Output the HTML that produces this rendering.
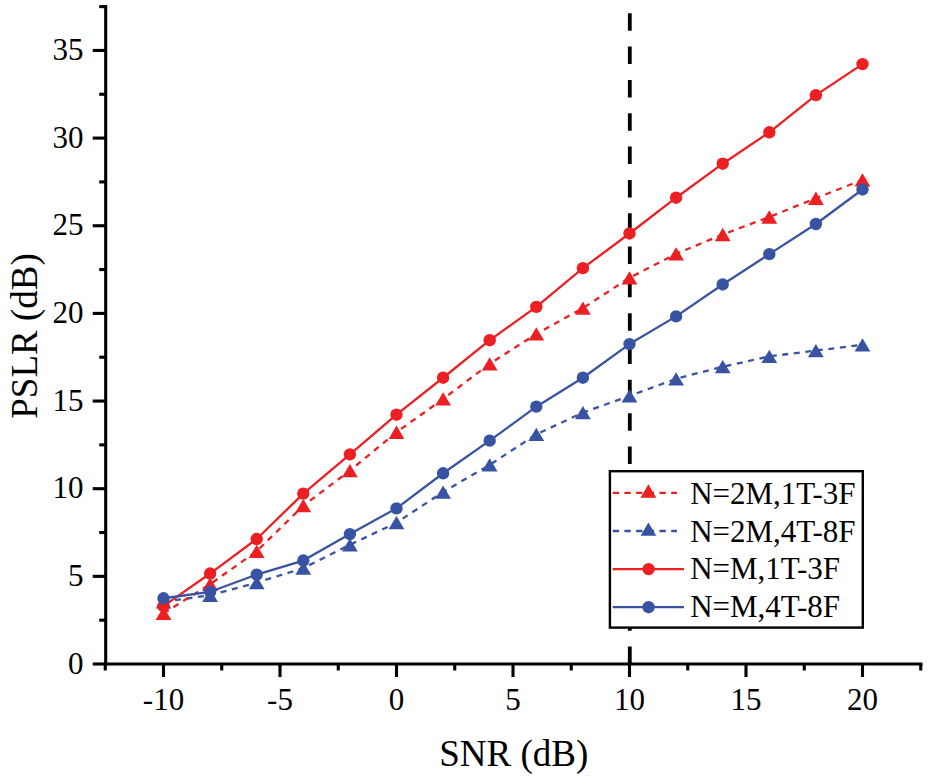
<!DOCTYPE html><html><head><meta charset="utf-8"><style>
html,body{margin:0;padding:0;background:#fff;width:929px;height:783px;overflow:hidden}
svg{display:block}
text{font-family:"Liberation Serif", serif;fill:#000}
</style></head><body>
<svg width="929" height="783" viewBox="0 0 929 783">
<rect width="929" height="783" fill="#fff"/>
<line x1="629.80" y1="664.0" x2="629.80" y2="5" stroke="#000" stroke-width="3.8" stroke-dasharray="17.5 15.83"/>
<polyline points="163.50,601.77 210.10,595.28 256.70,582.66 303.30,568.11 349.90,544.80 396.50,522.71 443.10,492.03 489.70,464.86 536.30,434.36 582.90,412.62 629.50,395.97 676.10,378.79 722.70,366.69 769.30,356.35 815.90,350.56 862.50,344.78" fill="none" stroke="#3953A3" stroke-width="2.3" stroke-dasharray="6 5.6" stroke-linejoin="round"/>
<polygon points="155.60,608.42 171.40,608.42 163.50,595.12" fill="#3953A3"/>
<polygon points="202.20,601.93 218.00,601.93 210.10,588.63" fill="#3953A3"/>
<polygon points="248.80,589.31 264.60,589.31 256.70,576.01" fill="#3953A3"/>
<polygon points="295.40,574.76 311.20,574.76 303.30,561.46" fill="#3953A3"/>
<polygon points="342.00,551.45 357.80,551.45 349.90,538.15" fill="#3953A3"/>
<polygon points="388.60,529.36 404.40,529.36 396.50,516.06" fill="#3953A3"/>
<polygon points="435.20,498.68 451.00,498.68 443.10,485.38" fill="#3953A3"/>
<polygon points="481.80,471.51 497.60,471.51 489.70,458.21" fill="#3953A3"/>
<polygon points="528.40,441.01 544.20,441.01 536.30,427.71" fill="#3953A3"/>
<polygon points="575.00,419.27 590.80,419.27 582.90,405.97" fill="#3953A3"/>
<polygon points="621.60,402.62 637.40,402.62 629.50,389.32" fill="#3953A3"/>
<polygon points="668.20,385.44 684.00,385.44 676.10,372.14" fill="#3953A3"/>
<polygon points="714.80,373.34 730.60,373.34 722.70,360.04" fill="#3953A3"/>
<polygon points="761.40,363.00 777.20,363.00 769.30,349.70" fill="#3953A3"/>
<polygon points="808.00,357.21 823.80,357.21 815.90,343.91" fill="#3953A3"/>
<polygon points="854.60,351.43 870.40,351.43 862.50,338.13" fill="#3953A3"/>
<polyline points="163.50,613.34 210.10,584.24 256.70,551.28 303.30,505.70 349.90,470.64 396.50,432.25 443.10,398.95 489.70,363.89 536.30,333.91 582.90,308.14 629.50,277.81 676.10,253.80 722.70,234.51 769.30,216.98 815.90,198.23 862.50,179.82" fill="none" stroke="#EC1F22" stroke-width="2.3" stroke-dasharray="6 5.6" stroke-linejoin="round"/>
<polygon points="155.60,619.99 171.40,619.99 163.50,606.69" fill="#EC1F22"/>
<polygon points="202.20,590.89 218.00,590.89 210.10,577.59" fill="#EC1F22"/>
<polygon points="248.80,557.93 264.60,557.93 256.70,544.63" fill="#EC1F22"/>
<polygon points="295.40,512.35 311.20,512.35 303.30,499.05" fill="#EC1F22"/>
<polygon points="342.00,477.29 357.80,477.29 349.90,463.99" fill="#EC1F22"/>
<polygon points="388.60,438.90 404.40,438.90 396.50,425.60" fill="#EC1F22"/>
<polygon points="435.20,405.60 451.00,405.60 443.10,392.30" fill="#EC1F22"/>
<polygon points="481.80,370.54 497.60,370.54 489.70,357.24" fill="#EC1F22"/>
<polygon points="528.40,340.56 544.20,340.56 536.30,327.26" fill="#EC1F22"/>
<polygon points="575.00,314.79 590.80,314.79 582.90,301.49" fill="#EC1F22"/>
<polygon points="621.60,284.46 637.40,284.46 629.50,271.16" fill="#EC1F22"/>
<polygon points="668.20,260.45 684.00,260.45 676.10,247.15" fill="#EC1F22"/>
<polygon points="714.80,241.16 730.60,241.16 722.70,227.86" fill="#EC1F22"/>
<polygon points="761.40,223.63 777.20,223.63 769.30,210.33" fill="#EC1F22"/>
<polygon points="808.00,204.88 823.80,204.88 815.90,191.58" fill="#EC1F22"/>
<polygon points="854.60,186.47 870.40,186.47 862.50,173.17" fill="#EC1F22"/>
<polyline points="163.50,606.15 210.10,573.55 256.70,539.01 303.30,493.61 349.90,454.34 396.50,414.72 443.10,377.74 489.70,340.22 536.30,306.91 582.90,268.17 629.50,233.46 676.10,197.70 722.70,163.69 769.30,132.32 815.90,95.15 862.50,64.12" fill="none" stroke="#EC1F22" stroke-width="2.3" stroke-linejoin="round"/>
<circle cx="163.50" cy="606.15" r="6.2" fill="#EC1F22"/>
<circle cx="210.10" cy="573.55" r="6.2" fill="#EC1F22"/>
<circle cx="256.70" cy="539.01" r="6.2" fill="#EC1F22"/>
<circle cx="303.30" cy="493.61" r="6.2" fill="#EC1F22"/>
<circle cx="349.90" cy="454.34" r="6.2" fill="#EC1F22"/>
<circle cx="396.50" cy="414.72" r="6.2" fill="#EC1F22"/>
<circle cx="443.10" cy="377.74" r="6.2" fill="#EC1F22"/>
<circle cx="489.70" cy="340.22" r="6.2" fill="#EC1F22"/>
<circle cx="536.30" cy="306.91" r="6.2" fill="#EC1F22"/>
<circle cx="582.90" cy="268.17" r="6.2" fill="#EC1F22"/>
<circle cx="629.50" cy="233.46" r="6.2" fill="#EC1F22"/>
<circle cx="676.10" cy="197.70" r="6.2" fill="#EC1F22"/>
<circle cx="722.70" cy="163.69" r="6.2" fill="#EC1F22"/>
<circle cx="769.30" cy="132.32" r="6.2" fill="#EC1F22"/>
<circle cx="815.90" cy="95.15" r="6.2" fill="#EC1F22"/>
<circle cx="862.50" cy="64.12" r="6.2" fill="#EC1F22"/>
<polyline points="163.50,598.26 210.10,591.78 256.70,574.60 303.30,560.57 349.90,534.10 396.50,508.33 443.10,473.27 489.70,440.67 536.30,406.66 582.90,377.74 629.50,344.08 676.10,316.38 722.70,284.48 769.30,254.15 815.90,224.00 862.50,189.46" fill="none" stroke="#3953A3" stroke-width="2.3" stroke-linejoin="round"/>
<circle cx="163.50" cy="598.26" r="6.2" fill="#3953A3"/>
<circle cx="210.10" cy="591.78" r="6.2" fill="#3953A3"/>
<circle cx="256.70" cy="574.60" r="6.2" fill="#3953A3"/>
<circle cx="303.30" cy="560.57" r="6.2" fill="#3953A3"/>
<circle cx="349.90" cy="534.10" r="6.2" fill="#3953A3"/>
<circle cx="396.50" cy="508.33" r="6.2" fill="#3953A3"/>
<circle cx="443.10" cy="473.27" r="6.2" fill="#3953A3"/>
<circle cx="489.70" cy="440.67" r="6.2" fill="#3953A3"/>
<circle cx="536.30" cy="406.66" r="6.2" fill="#3953A3"/>
<circle cx="582.90" cy="377.74" r="6.2" fill="#3953A3"/>
<circle cx="629.50" cy="344.08" r="6.2" fill="#3953A3"/>
<circle cx="676.10" cy="316.38" r="6.2" fill="#3953A3"/>
<circle cx="722.70" cy="284.48" r="6.2" fill="#3953A3"/>
<circle cx="769.30" cy="254.15" r="6.2" fill="#3953A3"/>
<circle cx="815.90" cy="224.00" r="6.2" fill="#3953A3"/>
<circle cx="862.50" cy="189.46" r="6.2" fill="#3953A3"/>
<line x1="105.7" y1="5" x2="105.7" y2="665.55" stroke="#000" stroke-width="3.1"/>
<line x1="104.15" y1="664.0" x2="922.5" y2="664.0" stroke="#000" stroke-width="3.1"/>
<line x1="92.70" y1="664.00" x2="105.7" y2="664.00" stroke="#000" stroke-width="3.1"/>
<line x1="99.20" y1="620.17" x2="105.7" y2="620.17" stroke="#000" stroke-width="3.1"/>
<line x1="92.70" y1="576.35" x2="105.7" y2="576.35" stroke="#000" stroke-width="3.1"/>
<line x1="99.20" y1="532.52" x2="105.7" y2="532.52" stroke="#000" stroke-width="3.1"/>
<line x1="92.70" y1="488.70" x2="105.7" y2="488.70" stroke="#000" stroke-width="3.1"/>
<line x1="99.20" y1="444.88" x2="105.7" y2="444.88" stroke="#000" stroke-width="3.1"/>
<line x1="92.70" y1="401.05" x2="105.7" y2="401.05" stroke="#000" stroke-width="3.1"/>
<line x1="99.20" y1="357.22" x2="105.7" y2="357.22" stroke="#000" stroke-width="3.1"/>
<line x1="92.70" y1="313.40" x2="105.7" y2="313.40" stroke="#000" stroke-width="3.1"/>
<line x1="99.20" y1="269.57" x2="105.7" y2="269.57" stroke="#000" stroke-width="3.1"/>
<line x1="92.70" y1="225.75" x2="105.7" y2="225.75" stroke="#000" stroke-width="3.1"/>
<line x1="99.20" y1="181.92" x2="105.7" y2="181.92" stroke="#000" stroke-width="3.1"/>
<line x1="92.70" y1="138.10" x2="105.7" y2="138.10" stroke="#000" stroke-width="3.1"/>
<line x1="99.20" y1="94.27" x2="105.7" y2="94.27" stroke="#000" stroke-width="3.1"/>
<line x1="92.70" y1="50.45" x2="105.7" y2="50.45" stroke="#000" stroke-width="3.1"/>
<line x1="99.20" y1="6.62" x2="105.7" y2="6.62" stroke="#000" stroke-width="3.1"/>
<line x1="105.25" y1="664.0" x2="105.25" y2="670.50" stroke="#000" stroke-width="3.1"/>
<line x1="163.50" y1="664.0" x2="163.50" y2="677.00" stroke="#000" stroke-width="3.1"/>
<line x1="221.75" y1="664.0" x2="221.75" y2="670.50" stroke="#000" stroke-width="3.1"/>
<line x1="280.00" y1="664.0" x2="280.00" y2="677.00" stroke="#000" stroke-width="3.1"/>
<line x1="338.25" y1="664.0" x2="338.25" y2="670.50" stroke="#000" stroke-width="3.1"/>
<line x1="396.50" y1="664.0" x2="396.50" y2="677.00" stroke="#000" stroke-width="3.1"/>
<line x1="454.75" y1="664.0" x2="454.75" y2="670.50" stroke="#000" stroke-width="3.1"/>
<line x1="513.00" y1="664.0" x2="513.00" y2="677.00" stroke="#000" stroke-width="3.1"/>
<line x1="571.25" y1="664.0" x2="571.25" y2="670.50" stroke="#000" stroke-width="3.1"/>
<line x1="629.50" y1="664.0" x2="629.50" y2="677.00" stroke="#000" stroke-width="3.1"/>
<line x1="687.75" y1="664.0" x2="687.75" y2="670.50" stroke="#000" stroke-width="3.1"/>
<line x1="746.00" y1="664.0" x2="746.00" y2="677.00" stroke="#000" stroke-width="3.1"/>
<line x1="804.25" y1="664.0" x2="804.25" y2="670.50" stroke="#000" stroke-width="3.1"/>
<line x1="862.50" y1="664.0" x2="862.50" y2="677.00" stroke="#000" stroke-width="3.1"/>
<line x1="920.75" y1="664.0" x2="920.75" y2="670.50" stroke="#000" stroke-width="3.1"/>
<text x="83.5" y="673.70" font-size="31" text-anchor="end">0</text>
<text x="83.5" y="586.05" font-size="31" text-anchor="end">5</text>
<text x="83.5" y="498.40" font-size="31" text-anchor="end">10</text>
<text x="83.5" y="410.75" font-size="31" text-anchor="end">15</text>
<text x="83.5" y="323.10" font-size="31" text-anchor="end">20</text>
<text x="83.5" y="235.45" font-size="31" text-anchor="end">25</text>
<text x="83.5" y="147.80" font-size="31" text-anchor="end">30</text>
<text x="83.5" y="60.15" font-size="31" text-anchor="end">35</text>
<text x="163.50" y="709.5" font-size="31" text-anchor="middle">-10</text>
<text x="280.00" y="709.5" font-size="31" text-anchor="middle">-5</text>
<text x="396.50" y="709.5" font-size="31" text-anchor="middle">0</text>
<text x="513.00" y="709.5" font-size="31" text-anchor="middle">5</text>
<text x="629.50" y="709.5" font-size="31" text-anchor="middle">10</text>
<text x="746.00" y="709.5" font-size="31" text-anchor="middle">15</text>
<text x="862.50" y="709.5" font-size="31" text-anchor="middle">20</text>
<text x="513.8" y="766.1" font-size="37" text-anchor="middle">SNR (dB)</text>
<text transform="translate(37.3,336) rotate(-90)" x="0" y="0" font-size="37" text-anchor="middle">PSLR (dB)</text>
<rect x="609.9" y="471.2" width="252.90" height="156.40" fill="#fff" stroke="#000" stroke-width="2.4"/>
<line x1="612.7" y1="492.9" x2="677.0" y2="492.9" stroke="#EC1F22" stroke-width="2.3" stroke-dasharray="6.3 5.4"/>
<polygon points="640.50,497.65 656.30,497.65 648.40,484.35" fill="#EC1F22"/>
<text x="690.2" y="504.20" font-size="31">N=2M,1T-3F</text>
<line x1="612.7" y1="531.0" x2="677.0" y2="531.0" stroke="#3953A3" stroke-width="2.3" stroke-dasharray="6.3 5.4"/>
<polygon points="640.50,535.75 656.30,535.75 648.40,522.45" fill="#3953A3"/>
<text x="690.2" y="541.80" font-size="31">N=2M,4T-8F</text>
<line x1="612.7" y1="569.1" x2="684.0" y2="569.1" stroke="#EC1F22" stroke-width="2.3"/>
<circle cx="648.60" cy="569.10" r="6.2" fill="#EC1F22"/>
<text x="690.2" y="579.40" font-size="31">N=M,1T-3F</text>
<line x1="612.7" y1="607.2" x2="684.0" y2="607.2" stroke="#3953A3" stroke-width="2.3"/>
<circle cx="648.60" cy="607.20" r="6.2" fill="#3953A3"/>
<text x="690.2" y="617.00" font-size="31">N=M,4T-8F</text>
</svg></body></html>
